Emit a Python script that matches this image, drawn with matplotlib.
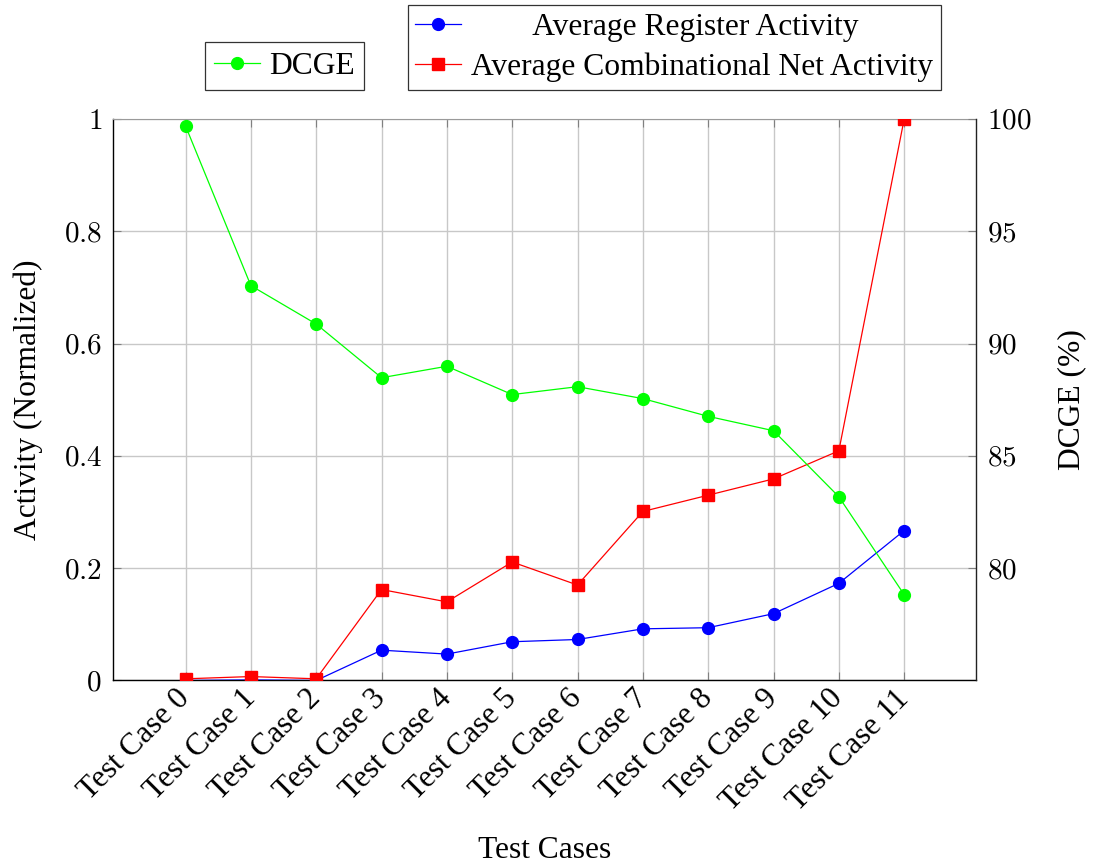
import matplotlib
matplotlib.use("Agg")
import matplotlib.pyplot as plt
import matplotlib.transforms as mtransforms
from matplotlib.ticker import FixedLocator, FuncFormatter

plt.rcParams["font.family"] = ["Liberation Serif", "DejaVu Serif"]
plt.rcParams["mathtext.fontset"] = "cm"

# Data
categories = [f"Test Case {i}" for i in range(12)]
register_activity = [0.0, 0.001, 0.0, 0.054, 0.047, 0.069, 0.073, 0.092, 0.094, 0.119, 0.173, 0.267]
comb_net_activity = [0.003, 0.007, 0.003, 0.162, 0.140, 0.211, 0.170, 0.301, 0.330, 0.359, 0.409, 1.0]
dcge = [99.69, 92.58, 90.87, 88.48, 88.99, 87.73, 88.08, 87.55, 86.76, 86.12, 83.18, 78.82]

left_ticks = [0, 0.2, 0.4, 0.6, 0.8, 1.0]
right_ticks = [80, 85, 90, 95, 100]

NUM_FS = 21
TXT_FS = 22.7
XT_FS = 22.5
GRID = "#c8c8c8"
TICKC = "#808080"

fig = plt.figure(figsize=(10.93, 8.64), dpi=100)
ax = fig.add_axes([0.1034, 0.2124, 0.7896, 0.6499])
x = list(range(len(categories)))

ax.plot(x, register_activity, color="#0000ff", lw=0.9, marker="o", ms=8.5,
        label="        Average Register Activity", zorder=3)
ax.plot(x, comb_net_activity, color="#ff0000", lw=0.9, marker="s", ms=8,
        label="Average Combinational Net Activity", zorder=4)

ax.set_xlim(-1.11, 12.1)
ax.set_ylim(0, 1)
ax.set_xticks(x)
ax.set_xticklabels(categories, rotation=45, ha="right", va="center",
                   rotation_mode="anchor", fontsize=XT_FS)
shift = mtransforms.ScaledTranslation(-6 / 100, 0, fig.dpi_scale_trans)
for lab in ax.get_xticklabels():
    lab.set_transform(lab.get_transform() + shift)
ax.yaxis.set_major_locator(FixedLocator(left_ticks))
ax.yaxis.set_major_formatter(FuncFormatter(lambda v, p: f"${v:g}$"))
ax.tick_params(axis="y", labelsize=NUM_FS, direction="in", length=6, color=TICKC, pad=8)
ax.tick_params(axis="x", direction="in", length=6, color=TICKC, pad=10, top=True)
ax.grid(True, color=GRID, lw=1.0)
ax.set_axisbelow(True)
for s in ["left", "bottom"]:
    ax.spines[s].set_color("black")
    ax.spines[s].set_linewidth(1.0)
ax.spines["top"].set_color("#9a9a9a")
ax.spines["right"].set_visible(False)
ax.set_ylabel("Activity (Normalized)", fontsize=TXT_FS, labelpad=15)
xl = ax.set_xlabel("Test Cases", fontsize=TXT_FS)
ax.xaxis.set_label_coords(0.5, -0.302)
xl.set_va("center")

ax2 = ax.twinx()
ax2.plot(x, dcge, color="#00ff00", lw=0.9, marker="o", ms=8.5, label="DCGE", zorder=5)
ax2.set_ylim(75, 100)
ax2.yaxis.set_major_locator(FixedLocator(right_ticks))
ax2.yaxis.set_major_formatter(FuncFormatter(lambda v, p: f"${v:g}$"))
ax2.tick_params(axis="y", labelsize=NUM_FS, direction="in", length=6, color=TICKC, pad=8)
ax2.spines["right"].set_color("#222222")
ax2.spines["right"].set_linewidth(1.0)
for s in ["left", "top", "bottom"]:
    ax2.spines[s].set_visible(False)
ax2.set_ylabel("DCGE (%)", fontsize=TXT_FS, labelpad=18)

leg1 = fig.legend(handles=ax2.get_lines(), loc="center", bbox_to_anchor=(0.2603, 0.9236),
                  fontsize=TXT_FS, frameon=True, fancybox=False, edgecolor="black",
                  handlelength=1.45, handletextpad=0.3, borderpad=0.3)
leg1.get_frame().set_linewidth(0.9)
leg2 = fig.legend(handles=ax.get_lines(), loc="center", bbox_to_anchor=(0.6167, 0.945),
                  fontsize=TXT_FS, frameon=True, fancybox=False, edgecolor="black",
                  handlelength=1.45, handletextpad=0.3, borderpad=0.25, labelspacing=0.35)
leg2.get_frame().set_linewidth(0.9)

fig.savefig("out.png", dpi=100)
